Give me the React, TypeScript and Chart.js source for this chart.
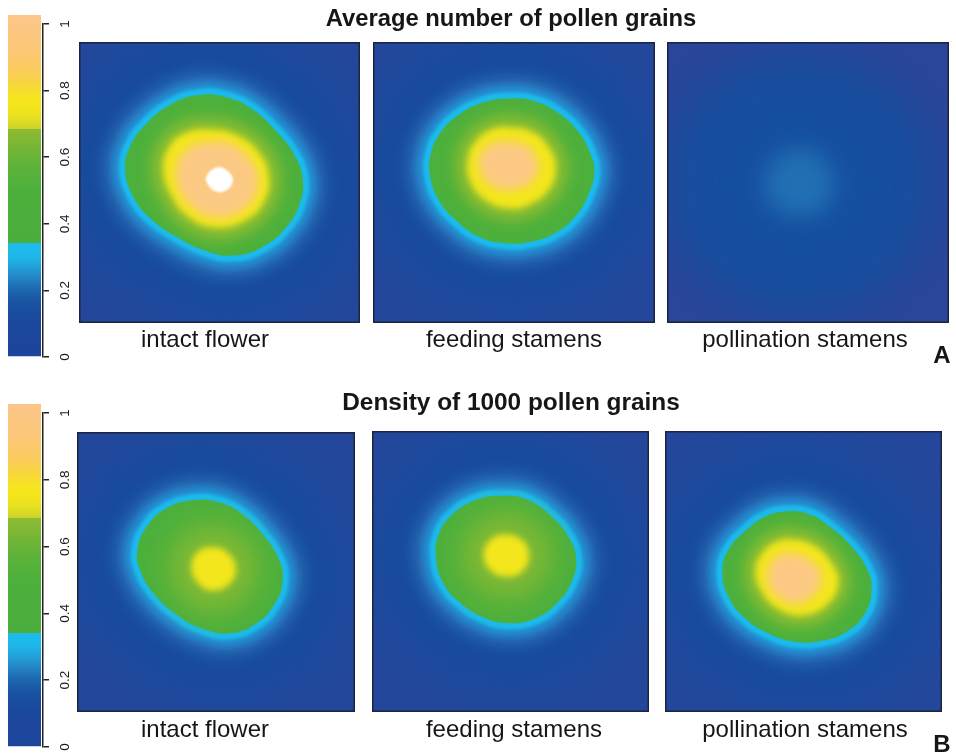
import React, { useEffect, useRef } from "react";
import { Chart, registerables } from "chart.js";

/* ---------- data: contour outlines, in % of each panel (x, y downward) ---------- */
const a1Green = [[42.5,18.9],[52.5,19.7],[62.0,24.2],[70.3,31.9],[76.3,39.6],[79.6,48.5],[78.6,57.4],[73.9,65.7],[65.6,72.8],[54.9,76.0],[44.2,74.0],[34.7,69.3],[25.3,62.7],[19.3,55.0],[16.4,45.5],[18.2,37.2],[23.5,29.5],[32.4,22.4]];
const a1Yellow = [[46.6,31.1],[56.1,33.1],[63.8,39.0],[67.6,47.9],[65.6,57.4],[58.5,63.9],[49.0,66.0],[39.5,62.7],[33.0,55.0],[30.0,45.5],[31.8,37.8],[37.7,32.5]];
const a1Orange = [[46.6,35.5],[54.9,36.6],[61.4,42.6],[63.8,49.1],[61.4,56.8],[54.9,61.6],[46.6,62.2],[39.5,58.0],[35.3,51.5],[34.8,43.8],[38.9,37.8]];
const a1White = [[49.6,44.6],[53.7,46.7],[54.7,49.7],[52.5,52.7],[49.0,53.3],[46.0,50.9],[45.4,47.7]];

const a2Green = [[48.1,20.1],[57.5,21.2],[65.8,25.4],[73.0,32.2],[77.0,39.6],[78.5,46.0],[76.4,54.2],[71.7,62.1],[64.6,68.0],[56.3,71.0],[46.9,71.6],[37.4,69.2],[29.2,63.3],[23.3,56.2],[20.3,47.9],[20.5,40.0],[23.8,32.5],[30.3,26.0],[38.6,21.7]];
const a2Yellow = [[48.1,30.4],[56.3,31.9],[62.2,37.3],[64.8,44.9],[62.2,52.7],[55.1,58.0],[48.1,59.2],[39.8,56.2],[34.8,50.3],[33.6,42.0],[36.8,34.9],[42.7,31.0]];
const a2Orange = [[48.1,35.5],[55.1,37.3],[58.4,43.2],[56.9,49.1],[50.4,52.4],[42.7,51.5],[38.0,45.6],[38.6,39.1],[43.3,35.9]];

const a3Field = [[46,18],[70,25],[82,48],[72,74],[46,84],[22,74],[12,50],[22,26]];
const a3Blob = [[47,38],[56,42],[59,50],[56,59],[47,62],[38,59],[35,50],[38,42]];

const b1Green = [[42.4,24.3],[51.4,25.2],[59.8,29.6],[67.0,36.8],[72.4,45.1],[74.0,52.8],[71.2,61.2],[64.6,68.3],[55.0,71.9],[44.8,70.1],[35.9,65.3],[27.5,57.6],[22.7,49.3],[21.7,42.1],[25.1,33.8],[32.2,27.2]];
const b1Yellow = [[48.4,41.2],[54.4,43.3],[57.2,49.3],[54.4,54.6],[48.4,56.6],[43.6,54.0],[41.2,48.7],[43.0,43.3]];

const b2Green = [[47.5,23.0],[56.5,24.6],[64.9,30.5],[70.9,37.6],[73.7,45.3],[72.1,53.6],[66.7,61.3],[58.9,66.7],[49.3,68.4],[39.7,66.1],[31.3,60.7],[25.8,54.2],[23.1,45.3],[24.0,37.0],[28.8,29.9],[37.3,24.6]];
const b2Yellow = [[48.1,36.8],[54.1,38.8],[56.7,44.1],[54.1,50.1],[48.1,51.8],[42.7,49.5],[40.3,44.1],[42.7,38.8]];

const b3Green = [[42.7,28.7],[51.7,29.5],[60.2,34.6],[67.4,41.2],[72.8,48.9],[74.6,56.0],[72.2,64.9],[65.6,71.4],[56.5,74.6],[46.9,75.0],[37.3,72.0],[28.3,66.1],[22.9,59.0],[20.7,50.6],[22.9,42.3],[30.1,34.6],[36.1,30.5]];
const b3Yellow = [[45.1,38.6],[53.5,40.6],[60.2,47.1],[62.6,54.2],[59.0,61.3],[50.5,65.5],[41.5,63.7],[34.9,57.2],[32.7,49.5],[35.5,43.0],[40.3,39.4]];
const b3Orange = [[45.7,43.5],[52.3,45.9],[56.5,51.8],[54.1,57.8],[48.1,61.3],[41.5,59.5],[37.3,54.2],[37.9,47.7],[41.5,44.1]];

/* colour bar: value of each colour stop and its colour (a repeated value is a hard step) */
const barEdges = [0,0.1,0.14,0.18,0.21,0.24,0.27,0.3,0.342,0.342,0.5,0.56,0.6,0.64,0.685,0.685,0.72,0.76,0.78,0.82,0.86,0.92,1.027];
const barColors = ["#1c459b","#1b479c","#194d9f","#1a5aa6","#1e6db3","#2486c5","#22a0d9","#1eb6e8","#1cbdee","#4bad3c","#4db03d","#5ab23a","#68b438","#7bb735","#8fba32","#c8d32a","#e8e01f","#f5e61c","#f6e41e","#f8d63c","#fbcc5c","#fcc876","#fcc68a"];
const barBase = 0;
const barTop = 1.027;
const tickValues = [0,0.2,0.4,0.6,0.8,1];

const titleA = "Average number of pollen grains";
const titleB = "Density of 1000 pollen grains";
const panelNames = ["intact flower","feeding stamens","pollination stamens"];

/* ---------- styles ---------- */
type Layer = { color: string; stroke: number; blur: number };
const FIELD: Layer = { color: "#164c9e", stroke: 130, blur: 28 };
const HALO: Layer = { color: "#2a70b8", stroke: 42, blur: 8 };
const HALO2: Layer = { color: "#2294d6", stroke: 24, blur: 4 };
const CYAN: Layer = { color: "#1cbaeb", stroke: 12, blur: 1.5 };
const GREEN: Layer = { color: "#4cb03c", stroke: 0, blur: 0.5 };
const GLOW: Layer = { color: "#8fbe30", stroke: 22, blur: 8 };
const YELLOW: Layer = { color: "#f3e61c", stroke: 0, blur: 3 };
const ORANGE: Layer = { color: "#fcc984", stroke: 0, blur: 5 };
const WHITE: Layer = { color: "#ffffff", stroke: 0, blur: 0.8 };
const WIDE_GLOW: Layer = { color: "#80b934", stroke: 44, blur: 14 };
const A3_FIELD: Layer = { color: "#14509f", stroke: 60, blur: 30 };
const A3_BLOB: Layer = { color: "#2270b4", stroke: 0, blur: 11 };

const ringed = (g: number[][]) => [[g, FIELD],[g, HALO],[g, HALO2],[g, CYAN],[g, GREEN]] as [number[][], Layer][];

const panels: { rect: number[]; corner: string; layers: [number[][], Layer][] }[] = [
  { rect: [79,42,281,281], corner: "#24479b", layers: [...ringed(a1Green),[a1Yellow,GLOW],[a1Yellow,YELLOW],[a1Orange,ORANGE],[a1White,WHITE]] },
  { rect: [373,42,282,281], corner: "#24479b", layers: [...ringed(a2Green),[a2Yellow,GLOW],[a2Yellow,YELLOW],[a2Orange,ORANGE]] },
  { rect: [667,42,282,281], corner: "#2b4599", layers: [[a3Field,A3_FIELD],[a3Blob,A3_BLOB]] },
  { rect: [77,432,278,280], corner: "#24479b", layers: [...ringed(b1Green),[b1Yellow,WIDE_GLOW],[b1Yellow,YELLOW]] },
  { rect: [372,431,277,281], corner: "#24479b", layers: [...ringed(b2Green),[b2Yellow,WIDE_GLOW],[b2Yellow,YELLOW]] },
  { rect: [665,431,277,281], corner: "#24479b", layers: [...ringed(b3Green),[b3Yellow,GLOW],[b3Yellow,YELLOW],[b3Orange,ORANGE]] },
];

const FONT = "'Liberation Sans', Arial, sans-serif";
const texts: { text: string; cx: number; cy: number; size: number; weight: string }[] = [
  { text: titleA, cx: 511, cy: 19, size: 23.8, weight: "bold" },
  { text: titleB, cx: 511, cy: 404, size: 24.4, weight: "bold" },
  { text: panelNames[0], cx: 205, cy: 340, size: 24, weight: "normal" },
  { text: panelNames[1], cx: 514, cy: 340, size: 24, weight: "normal" },
  { text: panelNames[2], cx: 805, cy: 340, size: 24, weight: "normal" },
  { text: panelNames[0], cx: 205, cy: 730, size: 24, weight: "normal" },
  { text: panelNames[1], cx: 514, cy: 730, size: 24, weight: "normal" },
  { text: panelNames[2], cx: 805, cy: 730, size: 24, weight: "normal" },
  { text: "A", cx: 942, cy: 356, size: 24, weight: "bold" },
  { text: "B", cx: 942, cy: 745, size: 24, weight: "bold" },
];

/* ---------- plugins ---------- */
const blurPlugin = {
  id: "layerBlur",
  beforeDatasetDraw(chart: any, args: any) {
    const b = chart.data.datasets[args.index].blurPx;
    chart.ctx.save();
    if (b) chart.ctx.filter = `blur(${b}px)`;
  },
  afterDatasetDraw(chart: any) {
    chart.ctx.restore();
  },
};
const framePlugin = {
  id: "panelFrame",
  afterDraw(chart: any) {
    const { ctx, chartArea: a } = chart;
    ctx.save();
    ctx.strokeStyle = "#1c2440";
    ctx.lineWidth = 1.5;
    ctx.strokeRect(a.left + 0.75, a.top + 0.75, a.right - a.left - 1.5, a.bottom - a.top - 1.5);
    ctx.restore();
  },
};
Chart.register(blurPlugin, ...registerables);

/* ---------- chart configs ---------- */
function panelConfig(layers: [number[][], Layer][]) {
  return {
    type: "scatter",
    data: {
      datasets: layers.map(([pts, st], i) => ({
        /* the outline is wrapped round by one point on both ends, so the curve closes smoothly */
        data: [pts[pts.length - 1], ...pts, pts[0], pts[1]].map(([x, y]) => ({ x, y })),
        showLine: true,
        fill: "shape",
        backgroundColor: st.color,
        borderColor: st.color,
        borderWidth: st.stroke,
        borderJoinStyle: "round",
        pointRadius: 0,
        tension: 0.45,
        order: -i,
        blurPx: st.blur,
      })),
    },
    options: {
      responsive: false,
      animation: false,
      events: [],
      layout: { padding: 0 },
      plugins: { legend: { display: false }, tooltip: { enabled: false } },
      scales: {
        x: { type: "linear", min: 0, max: 100, display: false },
        y: { type: "linear", min: 0, max: 100, reverse: true, display: false },
      },
    },
    plugins: [framePlugin],
  };
}

function barGradient(ctx: any) {
  const { chart } = ctx;
  const y = chart.scales.y;
  const y0 = y ? y.getPixelForValue(barBase) : NaN;
  const y1 = y ? y.getPixelForValue(barTop) : NaN;
  if (!Number.isFinite(y0) || !Number.isFinite(y1)) return barColors[0];
  const g = chart.ctx.createLinearGradient(0, y0, 0, y1);
  barEdges.forEach((e, i) => g.addColorStop((e - barBase) / (barTop - barBase), barColors[i]));
  return g;
}

function barConfig() {
  return {
    type: "bar",
    data: {
      labels: ["scale"],
      datasets: [{
        data: [[barBase, barTop]],
        backgroundColor: barGradient,
        borderWidth: 0,
        barPercentage: 33 / 37,
        categoryPercentage: 1,
        clip: false,
      }],
    },
    options: {
      responsive: false,
      animation: false,
      events: [],
      layout: { padding: { left: 6, top: 24, bottom: 12, right: 0 } },
      plugins: { legend: { display: false }, tooltip: { enabled: false } },
      scales: {
        x: { display: false },
        y: {
          position: "right",
          min: 0,
          max: 1,
          afterFit(scale: any) {
            scale.width = 47;
            scale.paddingTop = 0;
            scale.paddingBottom = 0;
            const orig = scale._getYAxisLabelAlignment.bind(scale);
            scale._getYAxisLabelAlignment = (t: number) => ({ ...orig(t), textAlign: "center" });
          },
          afterBuildTicks(scale: any) {
            scale.ticks = tickValues.map((value) => ({ value }));
          },
          border: { color: "#222222", width: 1.5 },
          grid: { display: true, drawOnChartArea: false, drawTicks: true, tickLength: 6, color: "#222222", lineWidth: 1.5 },
          ticks: {
            minRotation: 90,
            maxRotation: 90,
            padding: 16,
            color: "#1a1a1a",
            font: { family: FONT, size: 13.5 },
            callback: (v: number) => String(Math.round(v * 10) / 10),
          },
        },
      },
    },
  };
}

function textConfig(text: string, size: number, weight: string) {
  return {
    type: "scatter",
    data: { datasets: [] },
    options: {
      responsive: false,
      animation: false,
      events: [],
      layout: { padding: 0 },
      plugins: {
        legend: { display: false },
        tooltip: { enabled: false },
        title: { display: true, text, color: "#161616", padding: 0, font: { family: FONT, size, weight, lineHeight: 1.2 } },
      },
      scales: { x: { display: false }, y: { display: false } },
    },
  };
}

function ChartBox({ config, left, top, width, height, background }: any) {
  const ref = useRef<HTMLCanvasElement>(null);
  useEffect(() => {
    const c = new Chart(ref.current as any, config);
    return () => c.destroy();
  }, []);
  return (
    <canvas
      ref={ref}
      width={width}
      height={height}
      style={{ position: "absolute", left, top, width, height, background, display: "block" }}
    />
  );
}

export default function App() {
  return (
    <div style={{ position: "absolute", left: 0, top: 0, width: 956, height: 755, overflow: "hidden", background: "#ffffff" }}>
      <ChartBox config={barConfig()} left={0} top={0} width={90} height={369} />
      <ChartBox config={barConfig()} left={0} top={389} width={90} height={370} />
      {panels.map((p, i) => (
        <ChartBox key={i} config={panelConfig(p.layers)} left={p.rect[0]} top={p.rect[1]} width={p.rect[2]} height={p.rect[3]} background={p.corner} />
      ))}
      {texts.map((t, i) => {
        const h = Math.ceil(t.size * 1.2);
        const w = 420;
        return <ChartBox key={"t" + i} config={textConfig(t.text, t.size, t.weight)} left={t.cx - w / 2} top={t.cy - h / 2} width={w} height={h} />;
      })}
    </div>
  );
}
